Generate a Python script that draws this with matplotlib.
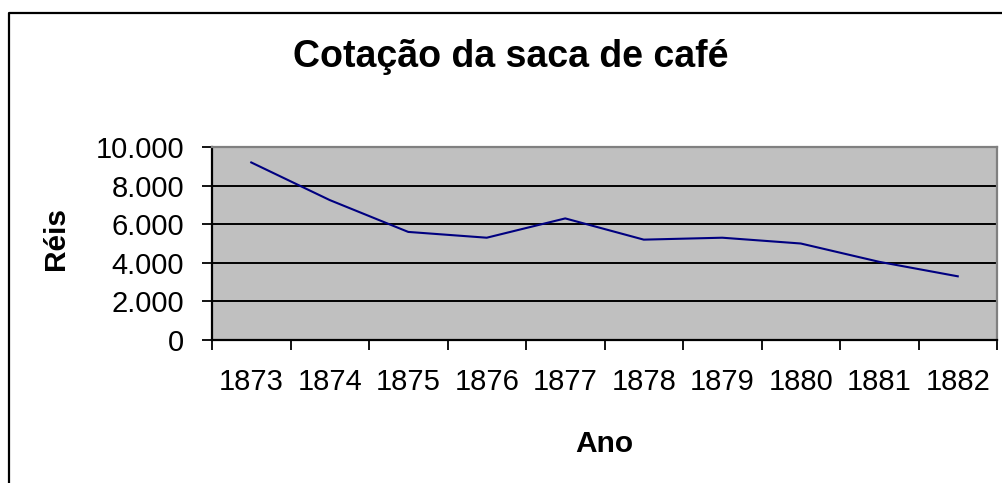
import matplotlib
matplotlib.use("Agg")
import matplotlib.pyplot as plt
from matplotlib.lines import Line2D
from matplotlib.ticker import FuncFormatter, FixedLocator, NullFormatter

years = ["1873", "1874", "1875", "1876", "1877", "1878", "1879", "1880", "1881", "1882"]
reis = [9200, 7250, 5600, 5300, 6300, 5200, 5300, 5000, 4050, 3300]
y_ticks = [0, 2000, 4000, 6000, 8000, 10000]

W, H = 1003, 483
plt.rcParams['font.family'] = ['Liberation Sans', 'DejaVu Sans']

fig = plt.figure(figsize=(W / 100, H / 100), dpi=100)

def fx(px):
    return px / W

def fy(py):
    return 1 - py / H

# plot area in pixels: left 212, right 997, top 147, bottom 340
ax = fig.add_axes([fx(212), fy(340), fx(997 - 212), (340 - 147) / H])
ax.set_facecolor("#c0c0c0")

x = list(range(len(years)))
ax.plot(x, reis, color="#000080", lw=1.5)

ax.set_xlim(-0.5, len(years) - 0.5)
ax.set_ylim(0, 10000)
ax.set_yticks(y_ticks)
ax.yaxis.set_major_formatter(FuncFormatter(lambda v, p: f"{int(v):,}".replace(",", ".")))
ax.grid(axis="y", color="black", lw=1.4)
ax.set_axisbelow(True)

# category labels centred, ticks between categories
ax.xaxis.set_major_locator(FixedLocator([i - 0.5 for i in range(len(years) + 1)]))
ax.xaxis.set_major_formatter(NullFormatter())
ax.xaxis.set_minor_locator(FixedLocator(x))
ax.set_xticklabels(years, minor=True)
ax.tick_params(axis="x", which="minor", length=0, pad=20, labelsize=21)
ax.tick_params(axis="x", which="major", length=7, width=1.3, direction="out")
ax.tick_params(axis="y", length=7, width=1.3, pad=13, labelsize=21)

for side in ["left", "bottom"]:
    ax.spines[side].set_color("black")
    ax.spines[side].set_linewidth(1.6)
for side in ["top", "right"]:
    ax.spines[side].set_color("#808080")
    ax.spines[side].set_linewidth(1.6)

fig.text(fx(511), fy(67), "Cotação da saca de café", ha="center", va="baseline",
         fontsize=27, fontweight="bold")
fig.text(fx(604), fy(451.5), "Ano", ha="center", va="baseline",
         fontsize=21.5, fontweight="bold")
fig.text(fx(56), fy(239), "Réis", ha="center", va="center", rotation=90,
         fontsize=21.5, fontweight="bold")

# outer chart frame (runs off the right and bottom edges)
fig.add_artist(Line2D([fx(9), fx(9), 1.01], [-0.01, fy(12.5), fy(12.5)],
                      transform=fig.transFigure, color="black", lw=1.6))

fig.savefig("out.png", dpi=100, facecolor="white")
